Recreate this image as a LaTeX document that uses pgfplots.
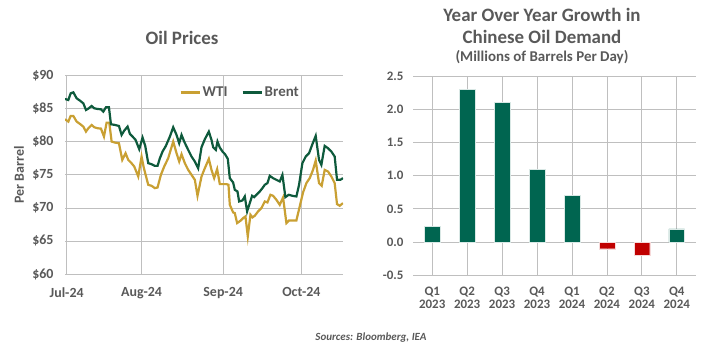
\documentclass[border=0pt]{standalone}
\usepackage{pgfplots}
\pgfplotsset{compat=1.18}
\usepackage{fontspec}
\setmainfont{Carlito}
\definecolor{txt}{HTML}{595959}
\definecolor{wti}{HTML}{C9A033}
\definecolor{brent}{HTML}{0E5A3C}
\definecolor{bargreen}{HTML}{006550}
\definecolor{barred}{HTML}{C00000}
\definecolor{grid}{HTML}{D9D9D9}
\begin{document}
\begin{tikzpicture}[x=1bp,y=1bp]
\useasboundingbox (0,0) rectangle (716,350);
% ---------------- Left: Oil Prices ----------------
\begin{axis}[
  at={(65bp,76bp)}, anchor=south west,
  scale only axis, width=278bp, height=198.3bp,
  xmin=195, xmax=1030, ymin=60, ymax=90,
  axis lines*=left, axis line style={draw=none},
  major tick length=0pt,
  ymajorgrids, grid style={grid, line width=0.8bp},
  ytick={60,65,...,90},
  yticklabels={\$60,\$65,\$70,\$75,\$80,\$85,\$90},
  xtick={200,425,670,905},
  xticklabels={Jul-24,Aug-24,Sep-24,Oct-24},
  tick label style={font=\fontsize{14}{16}\selectfont\bfseries, text=txt},
  yticklabel style={xshift=-8bp},
  xticklabel style={yshift=-10bp},
  /pgf/number format/assume math mode=true,
  legend style={at={(0.63,0.915)}, anchor=center, draw=none, fill=none,
    font=\fontsize{15}{17}\selectfont\bfseries, text=txt,
    /tikz/every even column/.append style={column sep=12bp}},
  legend columns=2,
  legend image code/.code={\draw[#1, line width=2.2bp] (0bp,0bp) -- (19bp,0bp);},
  y filter/.code={\pgfmathparse{90-(\pgfmathresult-47)/19.87}},
]
\addplot[wti, line width=2.2bp] coordinates {
(195,178)(205,185)(212,168)(220,168)(230,185)(240,192)(250,200)(258,215)(265,205)(275,195)
(283,202)(293,205)(303,206)(312,230)(320,188)(328,188)(335,245)(345,248)(357,250)(367,300)
(377,280)(385,300)(393,308)(403,320)(415,350)(425,290)(432,325)(445,375)(455,378)(465,385)
(473,383)(483,345)(493,320)(505,295)(520,245)(530,280)(538,305)(545,283)(555,310)(565,330)
(575,345)(585,360)(593,408)(605,350)(615,325)(627,297)(635,330)(643,355)(652,328)(660,373)
(670,373)(680,373)(686,375)(690,435)(700,458)(705,460)(712,490)(722,483)(730,475)(737,470)
(744,530)(752,465)(758,473)(765,468)(775,455)(785,445)(795,425)(803,428)(812,405)(820,408)
(830,420)(840,435)(850,413)(860,490)(868,482)(878,482)(890,482)(900,440)(910,398)(920,370)
(930,355)(940,330)(948,302)(958,370)(966,378)(975,330)(985,335)(995,350)(1005,370)(1012,433)
(1020,438)(1030,430)
};
\addlegendentry{WTI}
\addplot[brent, line width=2.2bp] coordinates {
(195,117)(205,120)(212,100)(220,97)(230,115)(240,122)(250,130)(258,150)(265,146)(275,138)
(283,145)(293,147)(303,148)(310,155)(318,142)(327,142)(333,193)(345,195)(357,198)(365,225)
(373,212)(383,200)(390,222)(398,230)(407,240)(418,268)(428,233)(436,258)(445,310)(455,313)
(465,318)(473,318)(480,295)(488,275)(498,258)(510,230)(520,202)(530,225)(538,250)(545,225)
(553,245)(565,270)(575,290)(585,305)(595,325)(605,262)(615,238)(627,215)(635,240)(640,262)
(648,270)(653,245)(660,263)(668,275)(675,282)(684,297)(690,355)(700,368)(705,390)(713,395)
(718,425)(728,422)(735,410)(742,455)(750,430)(757,408)(763,412)(770,405)(780,395)(788,385)
(795,375)(803,370)(810,348)(820,355)(830,360)(840,365)(848,345)(857,412)(867,405)(878,408)
(890,410)(898,375)(908,310)(918,290)(928,280)(938,253)(948,228)(958,300)(965,315)(975,258)
(985,265)(995,275)(1005,290)(1012,360)(1022,360)(1030,355)
};
\addlegendentry{Brent}
\end{axis}
\node[font=\fontsize{19}{22}\selectfont\bfseries, text=txt] at (182,312) {Oil Prices};
\node[font=\fontsize{14}{16}\selectfont\bfseries, text=txt, rotate=90] at (19,175) {Per Barrel};
% ---------------- Right: Chinese demand ----------------
\begin{axis}[
  at={(413bp,74.7bp)}, anchor=south west,
  scale only axis, width=283bp, height=199.3bp,
  xmin=-0.55, xmax=7.55, ymin=-0.5, ymax=2.5,
  axis lines*=left, axis line style={draw=none},
  major tick length=0pt,
  ymajorgrids, grid style={grid, line width=0.8bp},
  ytick={-0.5,0,0.5,1,1.5,2,2.5},
  yticklabels={-0.5,0.0,0.5,1.0,1.5,2.0,2.5},
  xtick={0,...,7},
  xticklabels={Q1\\2023,Q2\\2023,Q3\\2023,Q4\\2023,Q1\\2024,Q2\\2024,Q3\\2024,Q4\\2024},
  tick label style={font=\fontsize{13}{13}\selectfont\bfseries, text=txt},
  xticklabel style={align=center, yshift=-8bp, font=\fontsize{13}{13.5}\selectfont\bfseries},
  yticklabel style={xshift=-6bp},
  /pgf/number format/assume math mode=true,
  ybar, bar width=15.7bp,
]
\addplot[fill=bargreen, draw=white!85!bargreen, line width=0.4bp, bar shift=0pt] coordinates {
(0,0.24)(1,2.3)(2,2.1)(3,1.1)(4,0.7)(7,0.2)};
\addplot[fill=barred, draw=white!85!barred, line width=0.4bp, bar shift=0pt] coordinates {
(5,-0.1)(6,-0.2)};
\end{axis}
\node[font=\fontsize{19}{22}\selectfont\bfseries, text=txt] at (542,335) {Year Over Year Growth in};
\node[font=\fontsize{19}{22}\selectfont\bfseries, text=txt] at (542,313) {Chinese Oil Demand};
\node[font=\fontsize{15}{17}\selectfont\bfseries, text=txt] at (542,293) {(Millions of Barrels Per Day)};
\node[font=\fontsize{11}{13}\selectfont\bfseries\itshape, text=txt] at (371,12) {Sources: Bloomberg, IEA};
\end{tikzpicture}
\end{document}
